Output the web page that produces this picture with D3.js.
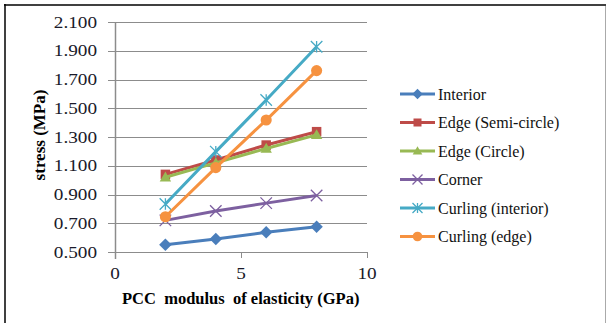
<!DOCTYPE html>
<html>
<head>
<meta charset="utf-8">
<script src="https://cdn.jsdelivr.net/npm/d3@7"></script>
<style>
  body { margin: 0; background: #fff; }
  svg { display: block; }
</style>
</head>
<body>
<div id="wrapper"></div>
<script>
// Data
const modulus = [2, 4, 6, 8];
const interior = [0.55, 0.59, 0.637, 0.675];
const edgeSemi = [1.04, 1.14, 1.244, 1.337];
const edgeCircle = [1.02, 1.12, 1.22, 1.315];
const corner = [0.72, 0.785, 0.84, 0.893];
const curlInterior = [0.834, 1.198, 1.557, 1.928];
const curlEdge = [0.745, 1.087, 1.418, 1.762];
const seriesNames = ["Interior", "Edge (Semi-circle)", "Edge (Circle)", "Corner", "Curling (interior)", "Curling (edge)"];
const yTicks = [0.5, 0.7, 0.9, 1.1, 1.3, 1.5, 1.7, 1.9, 2.1];
const xTicks = [0, 5, 10];

const colors = ["#4a7ebb", "#be4b48", "#98b954", "#7d60a0", "#46aac5", "#f69240"];
const markers = ["diamond", "square", "triangle", "cross", "star", "circle"];
const allValues = [interior, edgeSemi, edgeCircle, corner, curlInterior, curlEdge];

const series = seriesNames.map((name, i) => ({
  name: name,
  color: colors[i],
  marker: markers[i],
  values: modulus.map((x, j) => ({ x: x, y: allValues[i][j] })),
}));

// Mitoitus
const dimensions = {
  width: 607,
  height: 323,
  margins: { top: 22, left: 115, right: 240, bottom: 71 },
};
dimensions.boundedWidth = dimensions.width - dimensions.margins.left - dimensions.margins.right;
dimensions.boundedHeight = dimensions.height - dimensions.margins.top - dimensions.margins.bottom;

const wrapper = d3.select("#wrapper")
  .append("svg")
  .attr("width", dimensions.width)
  .attr("height", dimensions.height);

// frame (left + top black, right grey)
wrapper.append("line").attr("x1", 5).attr("x2", 5).attr("y1", 4).attr("y2", 323)
  .attr("stroke", "#000").attr("stroke-width", 1.5);
wrapper.append("line").attr("x1", 4).attr("x2", 606).attr("y1", 5).attr("y2", 5)
  .attr("stroke", "#000").attr("stroke-width", 1.5);
wrapper.append("line").attr("x1", 605.5).attr("x2", 605.5).attr("y1", 6).attr("y2", 323)
  .attr("stroke", "#aaa").attr("stroke-width", 1);

const bounds = wrapper.append("g")
  .attr("transform", `translate(${dimensions.margins.left},${dimensions.margins.top})`);

// Skaalaimet
const xScale = d3.scaleLinear().domain([0, 10]).range([0, dimensions.boundedWidth]);
const yScale = d3.scaleLinear().domain([0.5, 2.1]).range([dimensions.boundedHeight, 0]);

// gridlines
bounds.append("g")
  .selectAll("line")
  .data(yTicks)
  .join("line")
  .attr("x1", -7)
  .attr("x2", dimensions.boundedWidth)
  .attr("y1", (d) => Math.round(yScale(d)) + 0.5)
  .attr("y2", (d) => Math.round(yScale(d)) + 0.5)
  .attr("stroke", "#8c8c8c")
  .attr("stroke-width", 1);

// y axis line
bounds.append("line")
  .attr("x1", 0.5).attr("x2", 0.5)
  .attr("y1", 0).attr("y2", dimensions.boundedHeight + 7)
  .attr("stroke", "#8c8c8c").attr("stroke-width", 1.5);

// x ticks
bounds.append("g")
  .selectAll("line")
  .data(xTicks)
  .join("line")
  .attr("x1", (d) => Math.round(xScale(d)) + 0.5)
  .attr("x2", (d) => Math.round(xScale(d)) + 0.5)
  .attr("y1", dimensions.boundedHeight)
  .attr("y2", dimensions.boundedHeight + 6)
  .attr("stroke", "#8c8c8c").attr("stroke-width", 1);

const font = "'Liberation Serif', 'Times New Roman', serif";

// tick labels (a bit stretched sideways like the original)
bounds.append("g")
  .selectAll("text")
  .data(yTicks)
  .join("text")
  .attr("transform", (d) => `translate(-18, ${yScale(d) + 5.5}) scale(1.2, 1)`)
  .attr("text-anchor", "end")
  .style("font-family", font)
  .style("font-size", "16px")
  .attr("fill", "#1a1a2a")
  .text(d3.format(".3f"));

bounds.append("g")
  .selectAll("text")
  .data(xTicks)
  .join("text")
  .attr("transform", (d) => `translate(${xScale(d)}, ${dimensions.boundedHeight + 27}) scale(1.2, 1)`)
  .attr("text-anchor", "middle")
  .style("font-family", font)
  .style("font-size", "16px")
  .attr("fill", "#1a1a2a")
  .text((d) => d);

// axis titles
bounds.append("text")
  .attr("x", 7)
  .attr("y", dimensions.boundedHeight + 52)
  .style("font-family", font)
  .style("font-size", "16.5px")
  .style("font-weight", "bold")
  .style("white-space", "pre")
  .text("PCC  modulus  of elasticity (GPa)");

bounds.append("text")
  .attr("transform", `translate(-70, ${dimensions.boundedHeight / 2 - 2}) rotate(-90)`)
  .attr("text-anchor", "middle")
  .style("font-family", font)
  .style("font-size", "17px")
  .style("font-weight", "bold")
  .text("stress (MPa)");

// marker drawing
function drawMarker(sel, type, color, size) {
  const s = size;
  if (type === "diamond") {
    sel.append("path").attr("d", d3.symbol(d3.symbolDiamond2, s * s * 1.1)).attr("fill", color);
  } else if (type === "square") {
    sel.append("rect").attr("x", -s / 2).attr("y", -s / 2).attr("width", s).attr("height", s).attr("fill", color);
  } else if (type === "triangle") {
    sel.append("path").attr("d", `M0,${-s * 0.6}L${s * 0.6},${s * 0.45}L${-s * 0.6},${s * 0.45}Z`).attr("fill", color);
  } else if (type === "circle") {
    sel.append("circle").attr("r", s / 2 + 0.8).attr("fill", color);
  } else if (type === "cross" || type === "star") {
    const h = s / 2 + 1;
    sel.append("path")
      .attr("d", `M${-h},${-h}L${h},${h}M${-h},${h}L${h},${-h}` + (type === "star" ? `M0,${-h}L0,${h}` : ""))
      .attr("stroke", color).attr("stroke-width", 1.3).attr("fill", "none");
  }
}

// Datan piirtäminen
const lineGenerator = d3.line()
  .x((d) => xScale(d.x))
  .y((d) => yScale(d.y));

const seriesGroups = bounds.selectAll(".series")
  .data(series)
  .join("g")
  .attr("class", "series");

seriesGroups.append("path")
  .attr("d", (d) => lineGenerator(d.values))
  .attr("fill", "none")
  .attr("stroke", (d) => d.color)
  .attr("stroke-width", 3);

seriesGroups.each(function (d) {
  d3.select(this)
    .selectAll(".pt")
    .data(d.values)
    .join("g")
    .attr("class", "pt")
    .attr("transform", (p) => `translate(${xScale(p.x)},${yScale(p.y)})`)
    .each(function () {
      drawMarker(d3.select(this), d.marker, d.color, 9.5);
    });
});

// legend
const legend = wrapper.append("g").attr("transform", "translate(400, 94)");
const legendItems = legend.selectAll("g")
  .data(series)
  .join("g")
  .attr("transform", (d, i) => `translate(0, ${i * 28.5})`);

legendItems.append("line")
  .attr("x1", 0).attr("x2", 35)
  .attr("y1", 0).attr("y2", 0)
  .attr("stroke", (d) => d.color)
  .attr("stroke-width", 3);

legendItems.each(function (d) {
  const g = d3.select(this).append("g").attr("transform", "translate(17.5,0)");
  drawMarker(g, d.marker, d.color, 8);
});

legendItems.append("text")
  .attr("x", 38)
  .attr("y", 5.5)
  .style("font-family", font)
  .style("font-size", "16px")
  .attr("fill", "#111")
  .text((d) => d.name);
</script>
</body>
</html>
